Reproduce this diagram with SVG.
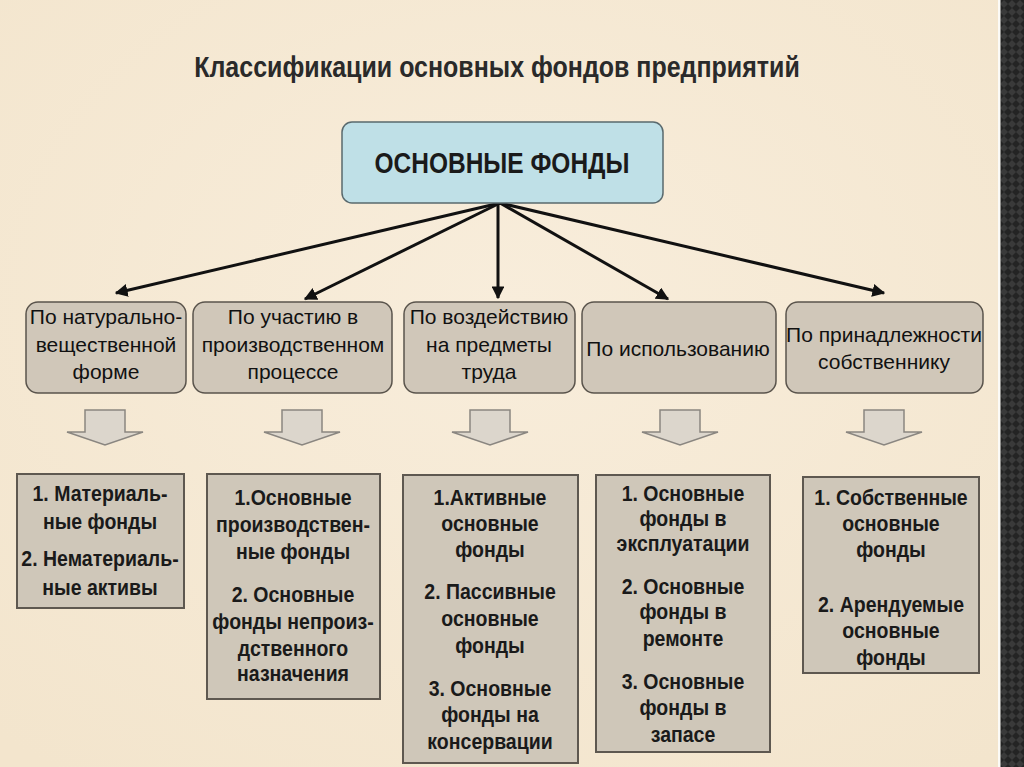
<svg xmlns="http://www.w3.org/2000/svg" width="1024" height="767" viewBox="0 0 1024 767">
<defs>
<style>
.title{font-family:"Liberation Sans",Arial,sans-serif;font-weight:bold;font-size:25px;fill:#2a2a2a;text-anchor:middle}
.root{font-family:"Liberation Sans",Arial,sans-serif;font-weight:bold;font-size:24.5px;fill:#1a1a1a;text-anchor:middle}
.cat{font-family:"Liberation Sans",Arial,sans-serif;font-size:21px;fill:#111;text-anchor:middle}
.item{font-family:"Liberation Sans",Arial,sans-serif;font-weight:bold;font-size:19.5px;fill:#1a1a1a;text-anchor:middle}
.catbox{fill:#d0c7b9;stroke:#5a544c;stroke-width:1.5}
.itembox{fill:#cfc7b9;stroke:#5e5850;stroke-width:2}
.blk{fill:#dcd6cc;stroke:#8a8680;stroke-width:1.5}
.conn{stroke:#111;stroke-width:3;fill:none}
</style>
<marker id="ah" viewBox="0 0 10 10" refX="9" refY="5" markerWidth="4.3" markerHeight="4.3" orient="auto" markerUnits="strokeWidth">
<path d="M0,0 L10,5 L0,10 z" fill="#111"/>
</marker>
<radialGradient id="bg" cx="50%" cy="40%" r="75%">
<stop offset="0" stop-color="#f8eddb"/>
<stop offset="1" stop-color="#f3e5cd"/>
</radialGradient>
<pattern id="weave" width="8" height="8" patternUnits="userSpaceOnUse">
<rect width="8" height="8" fill="#242424"/>
<path d="M0,4 L4,0 L8,4 L4,8 z" fill="#3a3a3a"/>
</pattern>
</defs>
<rect x="0" y="0" width="1024" height="767" fill="url(#bg)"/>
<rect x="1000" y="0" width="24" height="767" fill="url(#weave)"/>
<rect x="998" y="0" width="2.5" height="767" fill="#fbfaf6"/>

<text class="title" transform="translate(497,77) scale(1,1.2)">Классификации основных фондов предприятий</text>

<g id="connectors">
<line class="conn" x1="500" y1="203" x2="116" y2="293" marker-end="url(#ah)"/>
<line class="conn" x1="500" y1="203" x2="305" y2="299" marker-end="url(#ah)"/>
<line class="conn" x1="498" y1="203" x2="498" y2="298" marker-end="url(#ah)"/>
<line class="conn" x1="500" y1="203" x2="668" y2="299" marker-end="url(#ah)"/>
<line class="conn" x1="500" y1="203" x2="884" y2="293" marker-end="url(#ah)"/>
</g>

<g id="root">
<rect x="342" y="122" width="321" height="81" rx="10" fill="#bfe0e7" stroke="#5a6a6e" stroke-width="1.5"/>
<text class="root" transform="translate(502,173) scale(1,1.18)">ОСНОВНЫЕ ФОНДЫ</text>
</g>

<g id="cat1">
<rect class="catbox" x="26" y="302" width="160" height="91" rx="12"/>
<text class="cat"><tspan x="106" y="324">По натурально-</tspan><tspan x="106" y="352">вещественной</tspan><tspan x="106" y="379">форме</tspan></text>
</g>
<g id="cat2">
<rect class="catbox" x="193" y="302" width="199" height="91" rx="12"/>
<text class="cat"><tspan x="293" y="324">По участию в</tspan><tspan x="293" y="352">производственном</tspan><tspan x="293" y="379">процессе</tspan></text>
</g>
<g id="cat3">
<rect class="catbox" x="404" y="302" width="171" height="91" rx="12"/>
<text class="cat"><tspan x="489" y="324">По воздействию</tspan><tspan x="489" y="352">на предметы</tspan><tspan x="489" y="379">труда</tspan></text>
</g>
<g id="cat4">
<rect class="catbox" x="582" y="302" width="194" height="91" rx="12"/>
<text class="cat" x="678" y="356">По использованию</text>
</g>
<g id="cat5">
<rect class="catbox" x="786" y="302" width="197" height="91" rx="12"/>
<text class="cat"><tspan x="884" y="342">По принадлежности</tspan><tspan x="884" y="369">собственнику</tspan></text>
</g>

<g id="blockarrows">
<path class="blk" d="M85,410 H125 V432 H143 L105,445 L67,432 H85 Z"/>
<path class="blk" d="M282,410 H322 V432 H340 L302,445 L264,432 H282 Z"/>
<path class="blk" d="M470,410 H510 V432 H528 L490,445 L452,432 H470 Z"/>
<path class="blk" d="M660,410 H700 V432 H718 L680,445 L642,432 H660 Z"/>
<path class="blk" d="M864,410 H904 V432 H922 L884,445 L846,432 H864 Z"/>
</g>

<g id="items1">
<rect class="itembox" x="17" y="474" width="167" height="134"/>
<text class="item" transform="translate(100,501) scale(1,1.13)">1. Материаль-</text>
<text class="item" transform="translate(100,529) scale(1,1.13)">ные фонды</text>
<text class="item" transform="translate(100,566) scale(1,1.13)">2. Нематериаль-</text>
<text class="item" transform="translate(100,595) scale(1,1.13)">ные активы</text>
</g>
<g id="items2">
<rect class="itembox" x="207" y="474" width="173" height="225"/>
<text class="item" transform="translate(293,505) scale(1,1.13)">1.Основные</text>
<text class="item" transform="translate(293,532) scale(1,1.13)">производствен-</text>
<text class="item" transform="translate(293,559) scale(1,1.13)">ные фонды</text>
<text class="item" transform="translate(293,602) scale(1,1.13)">2. Основные</text>
<text class="item" transform="translate(293,629) scale(1,1.13)">фонды непроиз-</text>
<text class="item" transform="translate(293,656) scale(1,1.13)">дственного</text>
<text class="item" transform="translate(293,681) scale(1,1.13)">назначения</text>
</g>
<g id="items3">
<rect class="itembox" x="403" y="475" width="175" height="288"/>
<text class="item" transform="translate(490,505) scale(1,1.13)">1.Активные</text>
<text class="item" transform="translate(490,531) scale(1,1.13)">основные</text>
<text class="item" transform="translate(490,557) scale(1,1.13)">фонды</text>
<text class="item" transform="translate(490,599) scale(1,1.13)">2. Пассивные</text>
<text class="item" transform="translate(490,626) scale(1,1.13)">основные</text>
<text class="item" transform="translate(490,653) scale(1,1.13)">фонды</text>
<text class="item" transform="translate(490,696) scale(1,1.13)">3. Основные</text>
<text class="item" transform="translate(490,722) scale(1,1.13)">фонды на</text>
<text class="item" transform="translate(490,749) scale(1,1.13)">консервации</text>
</g>
<g id="items4">
<rect class="itembox" x="596" y="475" width="174" height="277"/>
<text class="item" transform="translate(683,501) scale(1,1.13)">1. Основные</text>
<text class="item" transform="translate(683,526) scale(1,1.13)">фонды в</text>
<text class="item" transform="translate(683,551) scale(1,1.13)">эксплуатации</text>
<text class="item" transform="translate(683,594) scale(1,1.13)">2. Основные</text>
<text class="item" transform="translate(683,619) scale(1,1.13)">фонды в</text>
<text class="item" transform="translate(683,646) scale(1,1.13)">ремонте</text>
<text class="item" transform="translate(683,689) scale(1,1.13)">3. Основные</text>
<text class="item" transform="translate(683,715) scale(1,1.13)">фонды в</text>
<text class="item" transform="translate(683,742) scale(1,1.13)">запасе</text>
</g>
<g id="items5">
<rect class="itembox" x="803" y="477" width="176" height="196"/>
<text class="item" transform="translate(891,505) scale(1,1.13)">1. Собственные</text>
<text class="item" transform="translate(891,531) scale(1,1.13)">основные</text>
<text class="item" transform="translate(891,557) scale(1,1.13)">фонды</text>
<text class="item" transform="translate(891,612) scale(1,1.13)">2. Арендуемые</text>
<text class="item" transform="translate(891,638) scale(1,1.13)">основные</text>
<text class="item" transform="translate(891,665) scale(1,1.13)">фонды</text>
</g>
</svg>
